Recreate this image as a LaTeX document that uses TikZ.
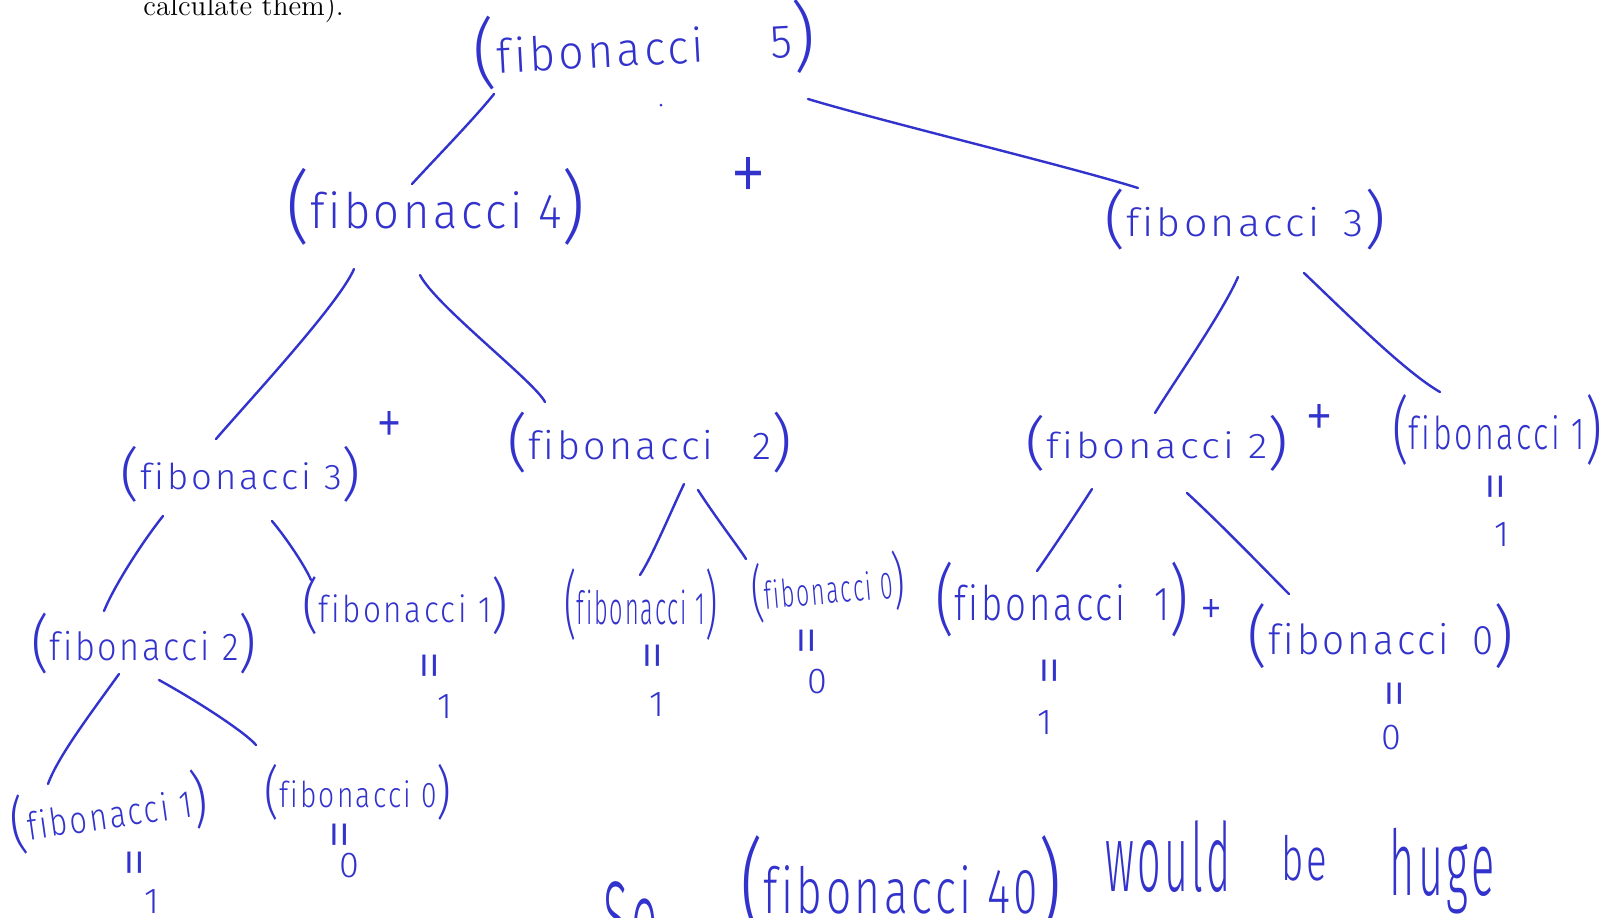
\documentclass[tikz,border=0pt]{standalone}
\usepackage{fontspec}
\usetikzlibrary{calc}
\newfontfamily\hand[LetterSpace=8,Ligatures={NoCommon}]{Fira Sans Light}
\definecolor{ink}{RGB}{50,50,205}
\newcommand\hw[3]{\resizebox*{\dimexpr#1pt/2\relax}{\dimexpr#2pt/2\relax}{\hand #3}}
\newcommand\fib[3]{\resizebox*{\dimexpr#1pt/2\relax}{\dimexpr#2pt/2\relax}{\hand (\raisebox{0.08em}{\scalebox{0.62}{#3}})}}
\begin{document}
\begin{tikzpicture}[x=0.5pt,y=-0.5pt,
  hw/.style={inner sep=0pt, text=ink},
  link/.style={draw=ink, line width=1.2pt, line cap=round},
  eqs/.style={rotate=90, inner sep=0pt, text=ink, font=\hand\fontsize{30pt}{30pt}\selectfont},
  dig/.style={inner sep=0pt, text=ink, font=\hand\fontsize{18pt}{18pt}\selectfont},
  plus/.style={inner sep=0pt, text=ink}]
\useasboundingbox (0,0) rectangle (1607,917);
\clip (0,0) rectangle (1607,917);
\fill[white] (0,0) rectangle (1607,917);

\node[anchor=base west, inner sep=0pt] (cal) at (143,15) {\fontsize{14.5pt}{16pt}\selectfont calculate them).};

% tree nodes
\node[hw, rotate=3] (f5) at (644,45) {\fib{342}{74}{fibonacci\hspace{1.5em}5}};
\node[hw] (f4) at (436,207) {\fib{299}{77}{fibonacci 4}};
\node[hw] (f3r) at (1245,220) {\fib{281}{61}{fibonacci\hspace{0.6em}3}};
\node[hw] (f3l) at (241,474) {\fib{240}{56}{fibonacci 3}};
\node[hw] (f2m) at (650,443) {\fib{285}{61}{fibonacci\hspace{1em}2}};
\node[hw] (f2r) at (1157,443) {\fib{263}{56}{fibonacci 2}};
\node[hw] (f1r) at (1497,430) {\fib{210}{71}{fibonacci 1}};
\node[hw] (f2l) at (144,644) {\fib{225}{61}{fibonacci 2}};
\node[hw] (f1a) at (405,606) {\fib{205}{58}{fibonacci 1}};
\node[hw] (f1s) at (641,605) {\fib{153}{72}{fibonacci 1}};
\node[hw, rotate=5] (f0s) at (828,587) {\fib{153}{60}{fibonacci 0}};
\node[hw] (f1m) at (1062,600) {\fib{254}{75}{fibonacci\hspace{0.8em}1}};
\node[hw] (f0r) at (1381,636) {\fib{266}{65}{fibonacci\hspace{0.6em}0}};
\node[hw, rotate=8] (f1b) at (109,812) {\fib{198}{60}{fibonacci 1}};
\node[hw] (f0b) at (358,792) {\fib{187}{56}{fibonacci 0}};

% plus signs
\node[plus] (p1) at (748,180) {\hw{36}{46}{+}};
\node[plus] (p2) at (389,428) {\hw{26}{34}{+}};
\node[plus] (p3) at (1319,421) {\hw{28}{34}{+}};
\node[plus] (p4) at (1211,612) {\hw{22}{26}{+}};

\node[circle, fill=ink, inner sep=0pt, minimum size=1.5pt] (dot) at (661,105) {};

% results
\node[eqs] (q1r) at (1502,487) {=};
\node[dig] (v1r) at (1502,535) {1};
\node[eqs] (q1a) at (436,666) {=};
\node[dig] (v1a) at (445,707) {1};
\node[eqs] (q1s) at (659,656) {=};
\node[dig] (v1s) at (657,705) {1};
\node[eqs] (q0s) at (813,641) {=};
\node[dig] (v0s) at (817,682) {0};
\node[eqs] (q1m) at (1056,671) {=};
\node[dig] (v1m) at (1045,723) {1};
\node[eqs] (q0r) at (1401,694) {=};
\node[dig] (v0r) at (1391,738) {0};
\node[eqs] (q1b) at (141,863) {=};
\node[dig] (v1b) at (152,902) {1};
\node[eqs] (q0b) at (346,835) {=};
\node[dig] (v0b) at (349,866) {0};

% bottom sentence
\node[hw, anchor=north west] (so) at (603,881) {\hw{55}{75}{So}};
\node[hw, anchor=north west] (f40) at (740,835) {\fib{321}{100}{fibonacci 40}};
\node[hw, anchor=north west] (would) at (1105,820) {\hw{125}{72}{would}};
\node[hw, anchor=north west] (be) at (1281,835) {\hw{46}{46}{be}};
\node[hw, anchor=north west] (huge) at (1389,828) {\hw{105}{86}{huge}};

% connectors
\draw[link] ($(f5)+(-150,49)$) .. controls +(-20,25) and +(20,-22) .. ($(f4)+(-24,-23)$);
\draw[link] ($(f5)+(164,54)$) .. controls +(80,24) and +(-70,-22) .. ($(f3r)+(-107,-32)$);
\draw[link] ($(f4)+(-82,62)$) .. controls +(-15,35) and +(30,-35) .. ($(f3l)+(-25,-35)$);
\draw[link] ($(f4)+(-16,68)$) .. controls +(15,30) and +(-10,-20) .. ($(f2m)+(-105,-41)$);
\draw[link] ($(f3r)+(-7,57)$) .. controls +(-15,35) and +(15,-25) .. ($(f2r)+(-2,-30)$);
\draw[link] ($(f3r)+(59,53)$) .. controls +(40,38) and +(-35,-20) .. ($(f1r)+(-57,-38)$);
\draw[link] ($(f3l)+(-78,42)$) .. controls +(-20,25) and +(10,-25) .. ($(f2l)+(-40,-33)$);
\draw[link] ($(f3l)+(31,47)$) .. controls +(15,18) and +(-6,-14) .. ($(f1a)+(-94,-26)$);
\draw[link] ($(f2m)+(34,41)$) .. controls +(-12,25) and +(12,-18) .. ($(f1s)+(-1,-30)$);
\draw[link] ($(f2m)+(48,47)$) .. controls +(18,28) and +(-6,-10) .. ($(f0s)+(-82,-28)$);
\draw[link] ($(f2r)+(-65,46)$) .. controls +(-18,28) and +(10,-14) .. ($(f1m)+(-25,-29)$);
\draw[link] ($(f2r)+(30,50)$) .. controls +(35,32) and +(-18,-18) .. ($(f0r)+(-92,-42)$);
\draw[link] ($(f2l)+(-25,30)$) .. controls +(-25,35) and +(10,-28) .. ($(f1b)+(-61,-28)$);
\draw[link] ($(f2l)+(15,36)$) .. controls +(40,22) and +(-10,-12) .. ($(f0b)+(-102,-47)$);
\end{tikzpicture}
\end{document}
